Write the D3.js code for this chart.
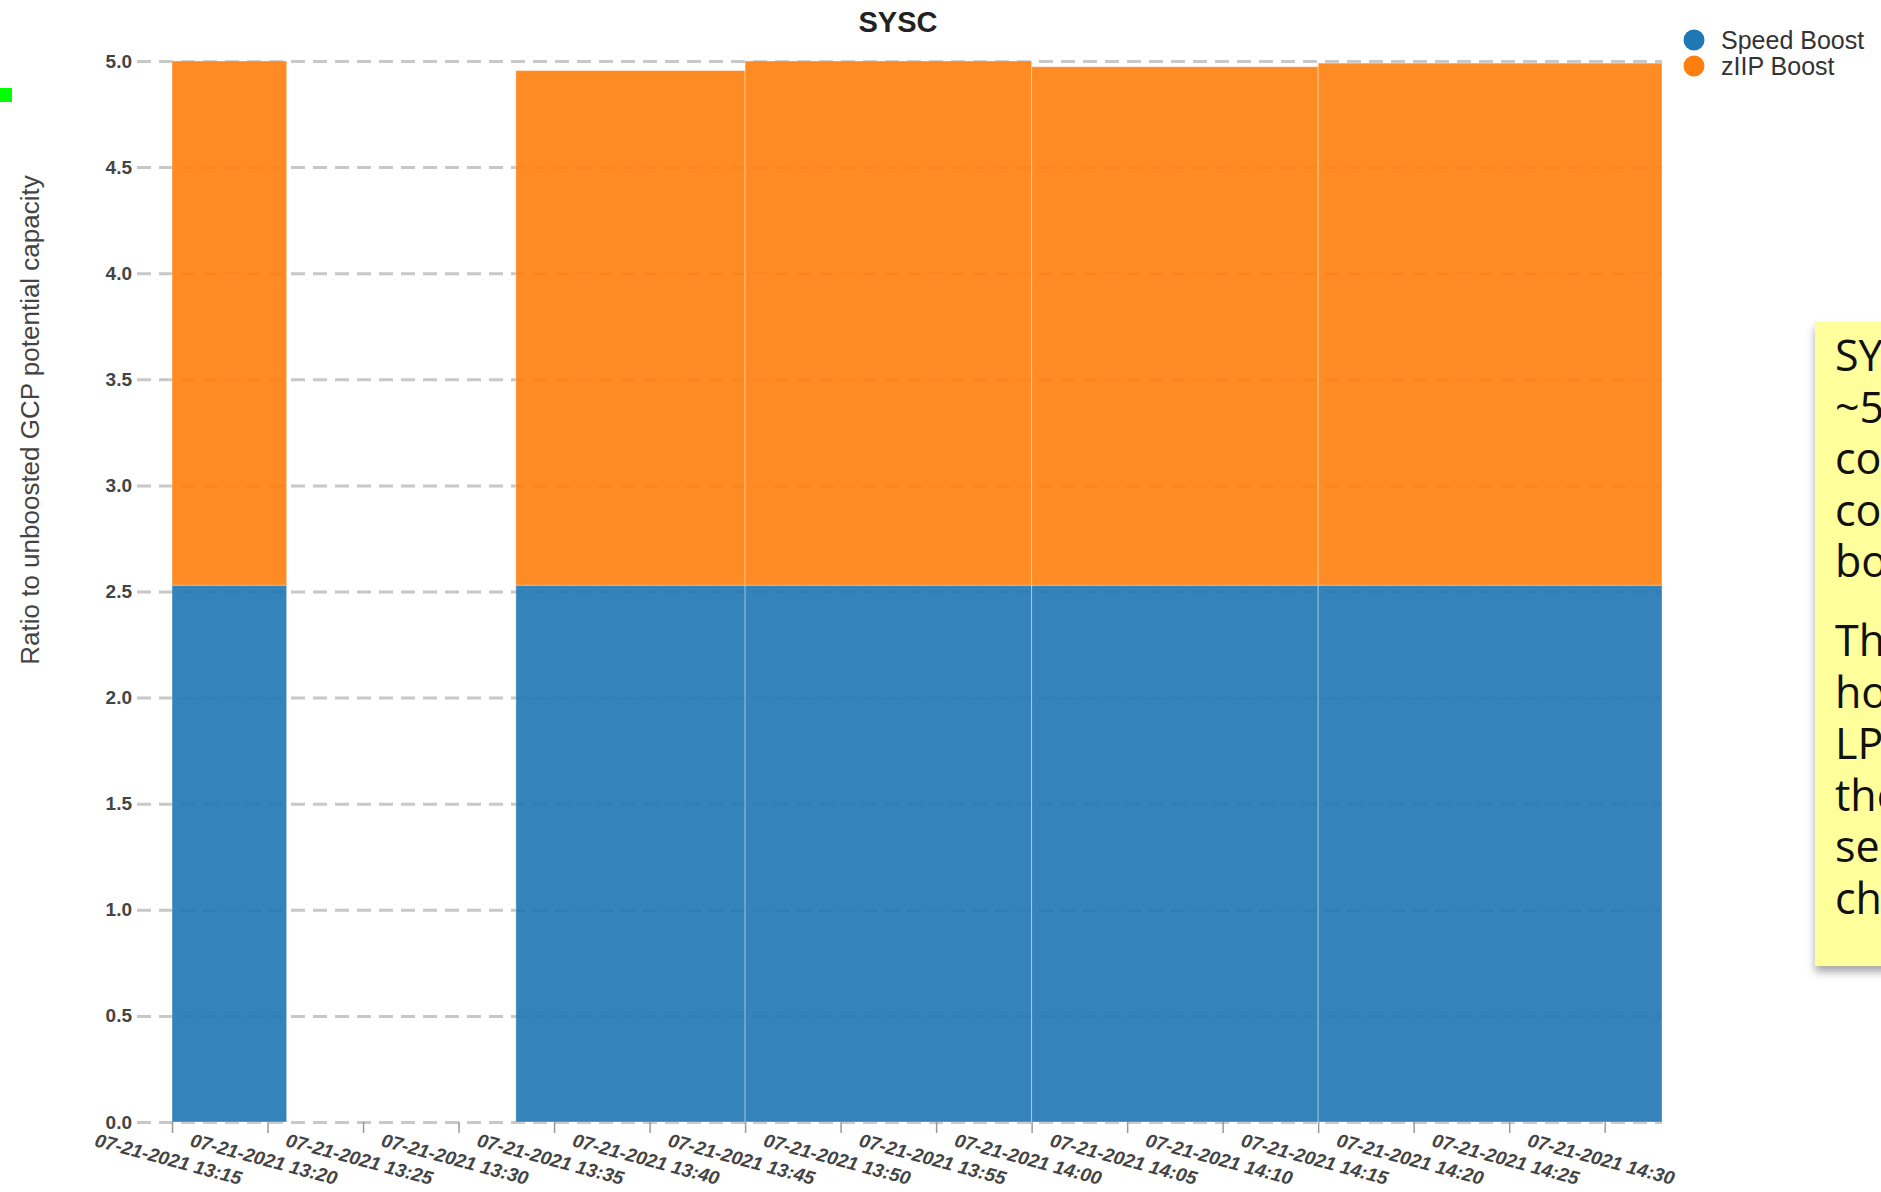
<!DOCTYPE html>
<html lang="en">
<head>
<meta charset="UTF-8">
<title>SYSC boost</title>
<style>
  body { margin: 0; background: #fff; }
  svg { display: block; font-family: "Liberation Sans", Arial, sans-serif; }
</style>
</head>
<body>
<script src="https://d3js.org/d3.v7.min.js"></script>
<script>
  // data
  const seriesNames = ['Speed Boost', 'zIIP Boost']
  const seriesColors = ['#1f77b4', '#ff7f0e']
  const intervalStart = ['13:15', '13:33', '13:45', '14:00', '14:15']
  const intervalEnd = ['13:21', '13:45', '14:00', '14:15', '14:33']
  const speedBoost = [2.53, 2.53, 2.53, 2.53, 2.53]
  const ziipBoost = [2.47, 2.425, 2.47, 2.443, 2.46]
  const yTicks = [0, 0.5, 1, 1.5, 2, 2.5, 3, 3.5, 4, 4.5, 5]
  const xDomain = ['13:13:10', '14:33:00']
  const day = '07-21-2021'

  // note box on the right, cut off by the window edge like in the original
  const noteLines = ['SYSC boosted', '~5x its', 'configured', 'consumed', 'boost', '',
    'The chart shows', 'how much the', 'LPAR gained in', 'the boost', 'second half of', 'chart']

  const width = 1881
  const height = 1192
  const plotLeft = 137, plotRight = 1662, plotTop = 61, plotBottom = 1122

  const parse = t => d3.timeParse('%m-%d-%Y %H:%M:%S')(day + ' ' + (t.length === 5 ? t + ':00' : t))

  const rows = intervalStart.map((s, i) => ({
    start: parse(s),
    end: parse(intervalEnd[i]),
    'Speed Boost': speedBoost[i],
    'zIIP Boost': ziipBoost[i]
  }))

  const x = d3.scaleTime()
    .domain(xDomain.map(parse))
    .range([plotLeft, plotRight])

  const y = d3.scaleLinear()
    .domain([0, 5])
    .range([plotBottom, plotTop])

  const color = d3.scaleOrdinal().domain(seriesNames).range(seriesColors)

  const svg = d3.select('body')
    .append('svg')
    .attr('width', width)
    .attr('height', height)

  // green marker at the left edge
  svg.append('rect')
    .attr('x', 0).attr('y', 88)
    .attr('width', 12).attr('height', 14)
    .attr('fill', '#00ff00')

  // y axis with dashed grid
  const yAxis = svg.append('g')
    .attr('transform', `translate(${plotLeft},0)`)
    .call(d3.axisLeft(y).tickValues(yTicks).tickFormat(d3.format('.1f'))
      .tickSize(-(plotRight - plotLeft)).tickPadding(5))
  yAxis.select('.domain').remove()
  yAxis.selectAll('line')
    .attr('stroke', '#c8c8c8')
    .attr('stroke-width', 3)
    .attr('stroke-dasharray', '14,8')
  yAxis.selectAll('text')
    .attr('fill', '#444')
    .attr('font-size', 19)
    .attr('font-weight', 'bold')

  // stacked bars
  const stack = d3.stack().keys(seriesNames)(rows)

  svg.append('g')
    .attr('opacity', 0.9)
    .selectAll('g')
    .data(stack)
    .join('g')
    .attr('fill', d => color(d.key))
    .selectAll('rect')
    .data(d => d)
    .join('rect')
    .attr('x', d => x(d.data.start))
    .attr('width', d => x(d.data.end) - x(d.data.start))
    .attr('y', d => y(d[1]))
    .attr('height', d => y(d[0]) - y(d[1]))
    .attr('stroke', '#fff')
    .attr('stroke-opacity', 0.35)
    .attr('stroke-width', 1)

  // x axis
  const fmt = d3.timeFormat('%m-%d-%Y %H:%M')
  const xAxis = svg.append('g')
    .attr('transform', `translate(0,${plotBottom})`)
    .call(d3.axisBottom(x).ticks(d3.timeMinute.every(5)).tickFormat(fmt).tickSize(11))
  xAxis.select('.domain').remove()
  xAxis.selectAll('line').attr('stroke', '#999').attr('stroke-width', 1.5)
  xAxis.selectAll('text')
    .attr('y', 0)
    .attr('dy', '0.35em')
    .attr('text-anchor', 'middle')
    .attr('transform', 'translate(-4,37) rotate(15)')
    .attr('fill', '#444')
    .attr('font-size', 19)
    .attr('font-weight', 'bold')
    .attr('font-style', 'italic')

  // title
  svg.append('text')
    .attr('x', 898)
    .attr('y', 32)
    .attr('text-anchor', 'middle')
    .attr('font-size', 29)
    .attr('font-weight', 'bold')
    .attr('fill', '#222')
    .text('SYSC')

  // y axis title
  svg.append('text')
    .attr('transform', 'translate(30,420) rotate(-90)')
    .attr('text-anchor', 'middle')
    .attr('dy', '0.35em')
    .attr('font-size', 26)
    .attr('fill', '#444')
    .text('Ratio to unboosted GCP potential capacity')

  // legend
  const legend = svg.append('g')
    .selectAll('g')
    .data(seriesNames)
    .join('g')
    .attr('transform', (d, i) => `translate(1694,${40 + i * 26})`)
  legend.append('circle')
    .attr('r', 10.5)
    .attr('fill', d => color(d))
  legend.append('text')
    .attr('x', 27)
    .attr('dy', '0.35em')
    .attr('font-size', 25)
    .attr('fill', '#333')
    .text(d => d)

  // yellow callout box
  const defs = svg.append('defs')
  const f = defs.append('filter').attr('id', 'shadow')
    .attr('x', '-20%').attr('y', '-10%').attr('width', '140%').attr('height', '130%')
  f.append('feDropShadow')
    .attr('dx', 0).attr('dy', 6)
    .attr('stdDeviation', 4)
    .attr('flood-color', '#000')
    .attr('flood-opacity', 0.35)

  svg.append('rect')
    .attr('x', 1815).attr('y', 322)
    .attr('width', 120).attr('height', 644)
    .attr('fill', '#ffff9c')
    .attr('filter', 'url(#shadow)')

  let ly = 356
  noteLines.forEach(t => {
    if (t === '') { ly += 27; return }
    svg.append('text')
      .attr('x', 1835)
      .attr('y', ly)
      .attr('dy', '0.35em')
      .attr('font-family', '"Open Sans", sans-serif')
      .attr('font-size', 43)
      .attr('fill', '#111')
      .text(t)
    ly += 51.6
  })
</script>
</body>
</html>
